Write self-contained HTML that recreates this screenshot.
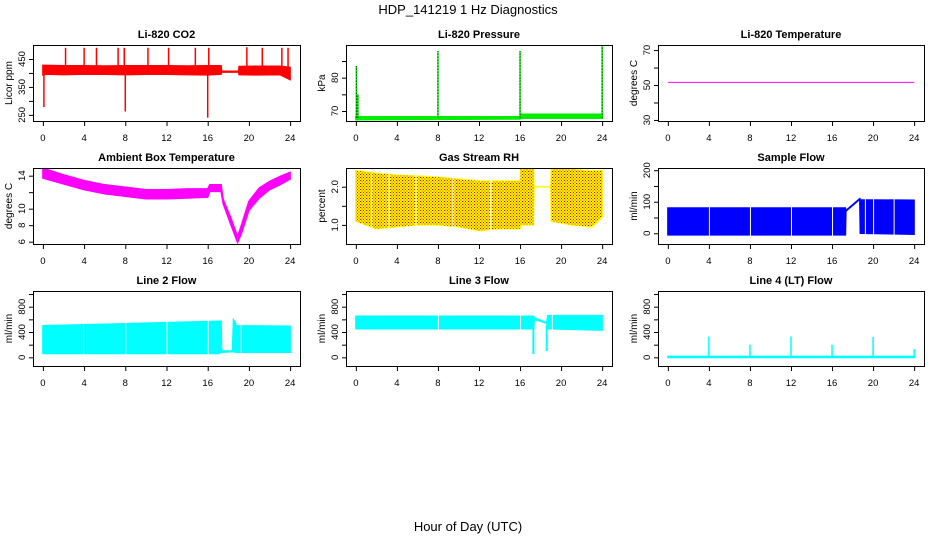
<!DOCTYPE html>
<html><head><meta charset="utf-8"><style>
html,body{margin:0;padding:0;background:#fff;width:936px;height:540px;overflow:hidden}
svg{display:block;font-family:"Liberation Sans",Arial,sans-serif;overflow:hidden}
</style></head><body>
<svg id="c" width="936" height="540" viewBox="0 0 936 540">
<defs>
<pattern id="dots" width="3" height="3" patternUnits="userSpaceOnUse"><rect x="0" y="0" width="1" height="1" fill="#e00000"/><rect x="1.5" y="1.5" width="1" height="1" fill="#e00000"/></pattern>
</defs>
<text x="468" y="14" font-size="13" text-anchor="middle">HDP_141219  1 Hz Diagnostics</text>
<text x="468" y="531" font-size="13" text-anchor="middle">Hour of Day (UTC)</text>
</svg>
<script>
// ---- data (hours, values) ----
const xTicks = [0,4,8,12,16,20,24];
// CO2
const co2T  = [0,0.3,2,4,6,8,10,12,14,16,17.3,17.35,19,19.05,21,23,24];
const co2Hi = [427,427,426,426,425,426,426,426,425,426,426,406,406,423,424,424,420];
const co2Lo = [393,396,394,396,395,394,395,395,394,393,396,403,403,394,393,394,376];
const co2SpikeT = [2.2,4.0,5.2,7.3,7.9,10.2,12.2,14.8,16.1,19.8,21.3,23.2,23.8,0.1,8.0,16.0];
const co2SpikeV = [490,490,490,490,490,490,490,490,490,492,490,490,490,278,262,240];
// Pressure
const prT  = [0,16,16.1,24];
const prHi = [68.3,68.3,69.0,69.0];
const prLo = [67.4,67.6,67.8,67.8];
const prSpikeT = [0.05,0.2,8.0,16.0,24.0];
const prSpikeV = [83.5,75,88,88,90];
// Li-820 temperature
const ltT = [0,24];
const ltV = [51.5,51.5];
// Ambient box temperature
const abT  = [0,2,4,6,8,10,12,14,16,16.2,17.3,17.5,18.2,18.9,19.3,20,21,22,23,24];
const abHi = [14.9,14.1,13.4,12.9,12.6,12.3,12.3,12.4,12.4,12.9,12.9,11.1,9.0,6.6,8.1,10.9,12.5,13.3,13.9,14.4];
const abLo = [13.7,13.0,12.3,11.8,11.5,11.2,11.2,11.3,11.4,12.1,12.1,10.6,8.2,5.9,7.1,9.8,11.3,12.3,12.9,13.6];
// Gas stream RH
const rhT  = [0,2,4,6,8,10,12,14,16,16.05,17.3,17.35,19,19.05,21,23,24];
const rhHi = [2.42,2.35,2.3,2.28,2.25,2.2,2.15,2.15,2.15,2.45,2.45,2.0,2.0,2.45,2.45,2.42,2.42];
const rhLo = [1.1,0.9,0.95,1.0,1.0,0.95,0.85,0.9,0.9,1.0,1.0,2.0,2.0,1.1,1.0,0.95,1.2];
// Sample flow
const sfT  = [0,17.3,17.35,18.7,18.75,24];
const sfHi = [80,80,72,110,106,105];
const sfLo = [-5,-5,70,108,0,-3];
// Line 2 flow
const l2T  = [0,17.1,17.3,17.35,18.4,18.5,18.7,18.75,24];
const l2Hi = [500,570,570,100,100,590,540,500,490];
const l2Lo = [60,60,80,80,90,90,80,80,80];
// Line 3 flow
const l3T  = [0,17.2,17.3,17.4,17.45,18.6,18.7,18.75,24];
const l3Hi = [650,650,650,620,620,545,660,660,660];
const l3Lo = [450,450,450,600,600,540,450,450,430];
const l3SpikeT = [17.3,18.6];
const l3SpikeV = [50,100];
// Line 4 flow
const l4T  = [0,24];
const l4Hi = [15,15];
const l4Lo = [-2,-2];
const l4SpikeT = [4.0,8.0,12.0,16.0,20.0,24.0];
const l4SpikeV = [330,200,330,200,320,130];

// ---- layout ----
const svg = document.getElementById('c');
const NS = 'http://www.w3.org/2000/svg';
const cols = [[33,300],[346,612],[658,924]];
const rows = [[45,121],[168,244],[291,366]];
function mk(tag, attrs, parent){
  const e = document.createElementNS(NS, tag);
  for (const k in attrs) e.setAttribute(k, attrs[k]);
  (parent||svg).appendChild(e);
  return e;
}
function panel(ci, ri, title, ytitle, ymin, ymax, yt, ylab, key){
  const [x0,x1] = cols[ci], [y0,y1] = rows[ri];
  const g = mk('g', {});
  
  
  const sx = t => x0 + (x1-x0)*(t+0.96)/25.92;
  const sy = v => y1 - (y1-y0)*(v-ymin)/(ymax-ymin);
  const clip = mk('clipPath', {id:'clip-'+key}, g);
  mk('rect', {x:x0,y:y0,width:x1-x0,height:y1-y0}, clip);
  const plot = mk('g', {'clip-path':'url(#clip-'+key+')'}, g);
  
  
  const box = mk('rect', {x:x0+0.5,y:y0+0.5,width:x1-x0,height:y1-y0,fill:'none',stroke:'#000','stroke-width':1}, g);
  
  
  const t = mk('text', {x:(x0+x1)/2,y:y0-7,'font-size':11,'font-weight':'bold','text-anchor':'middle'}, g);
  t.textContent = title;
  
  
  const xa = mk('g', {}, g);
  
  
  mk('line', {x1:sx(0),x2:sx(24),y1:y1+0.5,y2:y1+0.5,stroke:'#000'}, xa);
  xTicks.forEach(v=>{
    mk('line', {x1:sx(v)+0.5,x2:sx(v)+0.5,y1:y1,y2:y1+5,stroke:'#000'}, xa);
    const l = mk('text', {x:sx(v),y:y1+20,'font-size':9.5,'text-anchor':'middle'}, xa);
    l.textContent = v;
    
    
  });
  const ya = mk('g', {}, g);
  
  
  mk('line', {x1:x0+0.5,x2:x0+0.5,y1:sy(yt[0]),y2:sy(yt[yt.length-1]),stroke:'#000'}, ya);
  yt.forEach((v,i)=>{
    mk('line', {x1:x0-4,x2:x0,y1:sy(v)+0.5,y2:sy(v)+0.5,stroke:'#000'}, ya);
    if (ylab[i] !== '') {
      const l = mk('text', {x:0,y:0,'font-size':9.5,'text-anchor':'middle',transform:'translate('+(x0-8)+','+sy(v)+') rotate(-90)'}, ya);
      l.textContent = ylab[i];
      
      
    }
  });
  const yl = mk('text', {x:0,y:0,'font-size':10,'text-anchor':'middle',transform:'translate('+(x0-21)+','+((y0+y1)/2)+') rotate(-90)'}, g);
  yl.textContent = ytitle;
  
  
  return {plot, sx, sy};
}
function band(p, ts, hi, lo, fill, name){
  let d = 'M' + ts.map((t,i)=>p.sx(t).toFixed(1)+','+p.sy(hi[i]).toFixed(1)).join('L');
  for (let i=ts.length-1;i>=0;i--) d += 'L'+p.sx(ts[i]).toFixed(1)+','+p.sy(lo[i]).toFixed(1);
  const e = mk('path', {d:d+'Z', fill:fill, stroke:fill, 'stroke-width':1.5}, p.plot);
  
  
  return e;
}
function spikes(p, ts, vs, base, color, w, name, dash){
  ts.forEach((t,i)=>{
    const e = mk('line', {x1:p.sx(t),x2:p.sx(t),y1:p.sy(base(t)),y2:p.sy(vs[i]),stroke:color,'stroke-width':w}, p.plot);
    if (dash) e.setAttribute('stroke-dasharray', dash);
    
    
  });
}
function gaps(p, ts){
  ts.forEach(t=>{
    const e = mk('line', {x1:p.sx(t)+0.5,x2:p.sx(t)+0.5,y1:p.sy(1e6),y2:p.sy(-1e6),stroke:'#fff','stroke-width':1}, p.plot);
    
    
  });
}

// CO2
let p = panel(0,0,'Li-820 CO2','Licor ppm',228,500,[250,300,350,400,450],['250','','350','','450'],'co2');
band(p, co2T, co2Hi, co2Lo, '#ff0000', 'co2-series');
spikes(p, co2SpikeT, co2SpikeV, ()=>410, '#ff0000', 1.5, 'co2-spike');
// Pressure
p = panel(1,0,'Li-820 Pressure','kPa',67,89.8,[70,75,80,85],['70','','80',''],'pressure');
band(p, prT, prHi, prLo, '#00ee00', 'pressure-series');
spikes(p, prSpikeT, prSpikeV, ()=>68, '#00ee00', 1.5, 'pressure-spike');
spikes(p, prSpikeT, prSpikeV, ()=>68, '#000', 1, 'pressure-spike-dots', '1,2');
// Li temp
p = panel(2,0,'Li-820 Temperature','degrees C',29.4,72.9,[30,40,50,60,70],['30','','50','','70'],'li820-temp');
{ const e = mk('polyline', {points: ltT.map((t,i)=>p.sx(t)+','+p.sy(ltV[i])).join(' '), fill:'none', stroke:'#ff00ff','stroke-width':1}, p.plot);
  
   }
// Ambient
p = panel(0,1,'Ambient Box Temperature','degrees C',5.72,14.93,[6,8,10,12,14],['6','8','10','','14'],'ambient');
band(p, abT, abHi, abLo, '#ff00ff', 'ambient-series');
// RH
p = panel(1,1,'Gas Stream RH','percent',0.5,2.49,[1.0,1.5,2.0],['1.0','','2.0'],'rh');
band(p, rhT, rhHi, rhLo, '#ffff00', 'rh-series');
band(p, rhT, rhHi, rhLo, 'url(#dots)', 'rh-series-points').setAttribute('stroke','none');
gaps(p,[1.5,3.2,5.8,9.4,13.1]);
// Sample flow
p = panel(2,1,'Sample Flow','ml/min',-34,207,[0,50,100,150,200],['0','','100','','200'],'sample-flow');
band(p, sfT, sfHi, sfLo, '#0000ff', 'sample-flow-series');
gaps(p,[4.0,8.0,12.0,16.0,19.2,20.0,22.0]);
// Line 2
p = panel(0,2,'Line 2 Flow','ml/min',-137,1048,[0,200,400,600,800,1000],['0','','400','','800',''],'line2');
band(p, l2T, l2Hi, l2Lo, '#00ffff', 'line2-series');
gaps(p,[3.9,8.0,12.0,16.0,19.2]);
// Line 3
p = panel(1,2,'Line 3 Flow','ml/min',-137,1048,[0,200,400,600,800,1000],['0','','400','','800',''],'line3');
band(p, l3T, l3Hi, l3Lo, '#00ffff', 'line3-series');
spikes(p, l3SpikeT, l3SpikeV, ()=>500, '#00ffff', 2, 'line3-drop');
gaps(p,[8.0,16.0,19.1]);
// Line 4
p = panel(2,2,'Line 4 (LT) Flow','ml/min',-137,1048,[0,200,400,600,800,1000],['0','','400','','800',''],'line4');
band(p, l4T, l4Hi, l4Lo, '#00ffff', 'line4-series');
spikes(p, l4SpikeT, l4SpikeV, ()=>0, '#00ffff', 1.5, 'line4-spike');
</script>
</body></html>
